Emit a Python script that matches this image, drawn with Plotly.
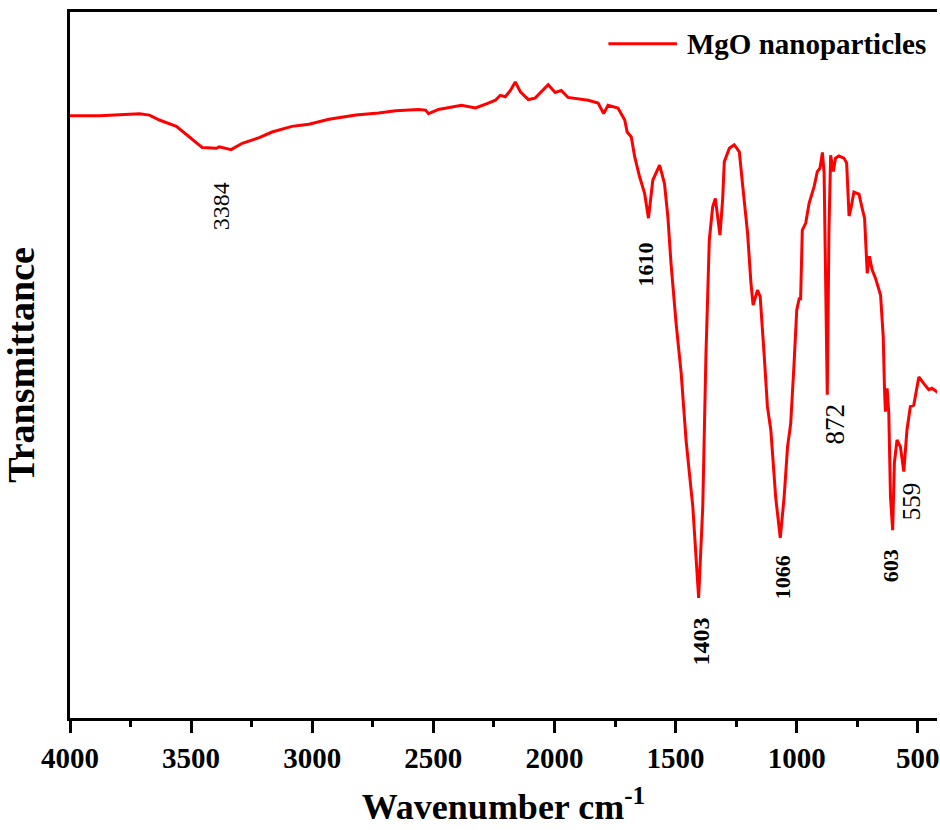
import plotly.graph_objects as go

# FTIR spectrum of MgO nanoparticles
wavenumber = [
    4000, 3878, 3713, 3672, 3631, 3561, 3507, 3454, 3396, 3384, 3335, 3289, 3219, 3166, 3084, 3014, 2931,
    2820, 2726, 2656, 2561, 2532, 2520, 2479, 2384, 2368, 2326, 2273, 2244, 2224, 2203, 2182, 2162, 2141,
    2108, 2080, 2026, 1997, 1972, 1944, 1861, 1820, 1797, 1779, 1738, 1710, 1700, 1683, 1669, 1649, 1628,
    1612, 1594, 1566, 1546, 1532, 1519, 1498, 1477, 1457, 1429, 1405, 1388, 1375, 1361, 1347, 1336, 1317,
    1306, 1299, 1278, 1258, 1237, 1224, 1203, 1189, 1180, 1162, 1151, 1134, 1121, 1107, 1087, 1068, 1052,
    1038, 1025, 1011, 1000, 990, 984, 977, 963, 949, 928, 915, 904, 894, 887, 874, 867, 860, 849, 840, 826,
    805, 794, 784, 775, 764, 743, 730, 720, 709, 700, 689, 675, 654, 643, 638, 634, 627, 620, 613, 604,
    597, 586, 572, 558, 545, 531, 517, 496, 476, 455, 442, 421, 400,
]
transmittance = [
    85.3, 85.3, 85.6, 85.4, 84.7, 83.8, 82.3, 80.8, 80.7, 80.9, 80.5, 81.4, 82.2, 83.0, 83.8, 84.1, 84.8,
    85.4, 85.7, 86.0, 86.2, 86.1, 85.6, 86.2, 86.8, 86.7, 86.4, 87.1, 87.5, 88.2, 88.0, 88.9, 90.1, 88.7,
    87.6, 87.8, 89.7, 88.6, 88.9, 87.9, 87.5, 87.1, 85.6, 86.8, 86.4, 84.7, 83.0, 82.3, 79.5, 76.7, 74.3,
    70.8, 76.2, 78.3, 75.7, 71.0, 64.4, 55.9, 48.8, 39.4, 29.9, 17.0, 29.9, 51.2, 67.7, 72.4, 73.6, 68.4,
    73.4, 78.8, 80.7, 81.2, 80.2, 75.7, 68.7, 61.6, 58.5, 60.6, 59.7, 51.2, 44.1, 40.8, 31.3, 25.5, 31.3,
    38.4, 41.7, 50.2, 57.8, 59.4, 59.4, 69.1, 70.1, 72.9, 75.3, 77.4, 77.9, 80.1, 77.2, 45.8, 69.1, 79.7,
    77.4, 79.3, 79.6, 79.3, 78.6, 71.1, 72.4, 74.5, 74.2, 72.2, 70.8, 63.0, 65.4, 63.5, 62.3, 59.9, 54.0,
    46.9, 43.4, 46.7, 43.2, 31.3, 26.6, 36.1, 39.4, 38.4, 34.9, 40.8, 44.1, 44.3, 48.3, 47.4, 46.5, 46.7,
    46.2, 46.0,
]

# Peak labels: text, x position, y position
peak_labels = ["3384", "1610", "1403", "1066", "872", "603", "559"]
peak_label_x = [3376, 1623, 1396, 1059, 841, 615, 528]
peak_label_y = [72.5, 64.2, 10.8, 20.0, 41.6, 21.5, 30.7]
peak_label_bold = [False, True, True, True, False, True, False]
peak_label_size = [24, 22, 24, 22, 27, 22, 25]

series_name = "MgO nanoparticles"
x_ticks = [4000, 3500, 3000, 2500, 2000, 1500, 1000, 500]

FONT = "Liberation Serif, Times New Roman, serif"

fig = go.Figure()
fig.add_trace(go.Scatter(
    x=wavenumber, y=transmittance, mode="lines", name=series_name,
    line=dict(color="#ff0000", width=3), showlegend=False,
))

for txt, lx, ly, b, s in zip(peak_labels, peak_label_x, peak_label_y, peak_label_bold, peak_label_size):
    fig.add_annotation(
        x=lx, y=ly, xref="x", yref="y", text=f"<b>{txt}</b>" if b else txt,
        showarrow=False, textangle=-90, xanchor="center", yanchor="middle",
        font=dict(family=FONT, size=s, color="black"),
    )

# Legend (drawn manually to match the long line sample)
fig.add_shape(type="line", xref="paper", yref="paper", x0=0.621, x1=0.700, y0=0.955, y1=0.955,
              line=dict(color="#ff0000", width=3))
fig.add_annotation(xref="paper", yref="paper", x=0.709, y=0.955, text=f"<b>{series_name}</b>",
                   showarrow=False, xanchor="left", yanchor="middle",
                   font=dict(family=FONT, size=29, color="black"))

fig.update_layout(
    width=940, height=830,
    margin=dict(l=70, r=0, t=12, b=112),
    paper_bgcolor="white", plot_bgcolor="white",
    font=dict(family=FONT, color="black"),
    xaxis=dict(
        range=[4000, 421], tickvals=x_ticks, ticktext=[f"<b>{v}</b>" for v in x_ticks],
        ticklabeloverflow="allow",
        showgrid=False, zeroline=False,
        showline=True, linecolor="black", linewidth=2.5, mirror=True,
        ticks="outside", ticklen=12, tickwidth=2.5, tickcolor="black",
        minor=dict(dtick=250, tick0=0, ticks="outside", ticklen=6, tickwidth=2.5, tickcolor="black"),
        tickfont=dict(family=FONT, size=29, color="black"),
        title=dict(text="<b>Wavenumber cm<sup>-1</sup></b>", font=dict(family=FONT, size=36, color="black"),
                   standoff=22),
    ),
    yaxis=dict(
        range=[0, 100], showgrid=False, zeroline=False, showticklabels=False, ticks="",
        showline=True, linecolor="black", linewidth=2.5, mirror=False,
        title=dict(text="<b>Transmittance</b>", font=dict(family=FONT, size=38, color="black"),
                   standoff=28),
    ),
)

fig.write_html("out.html", config={"displayModeBar": False},
               post_script="document.body.style.margin='0';")
